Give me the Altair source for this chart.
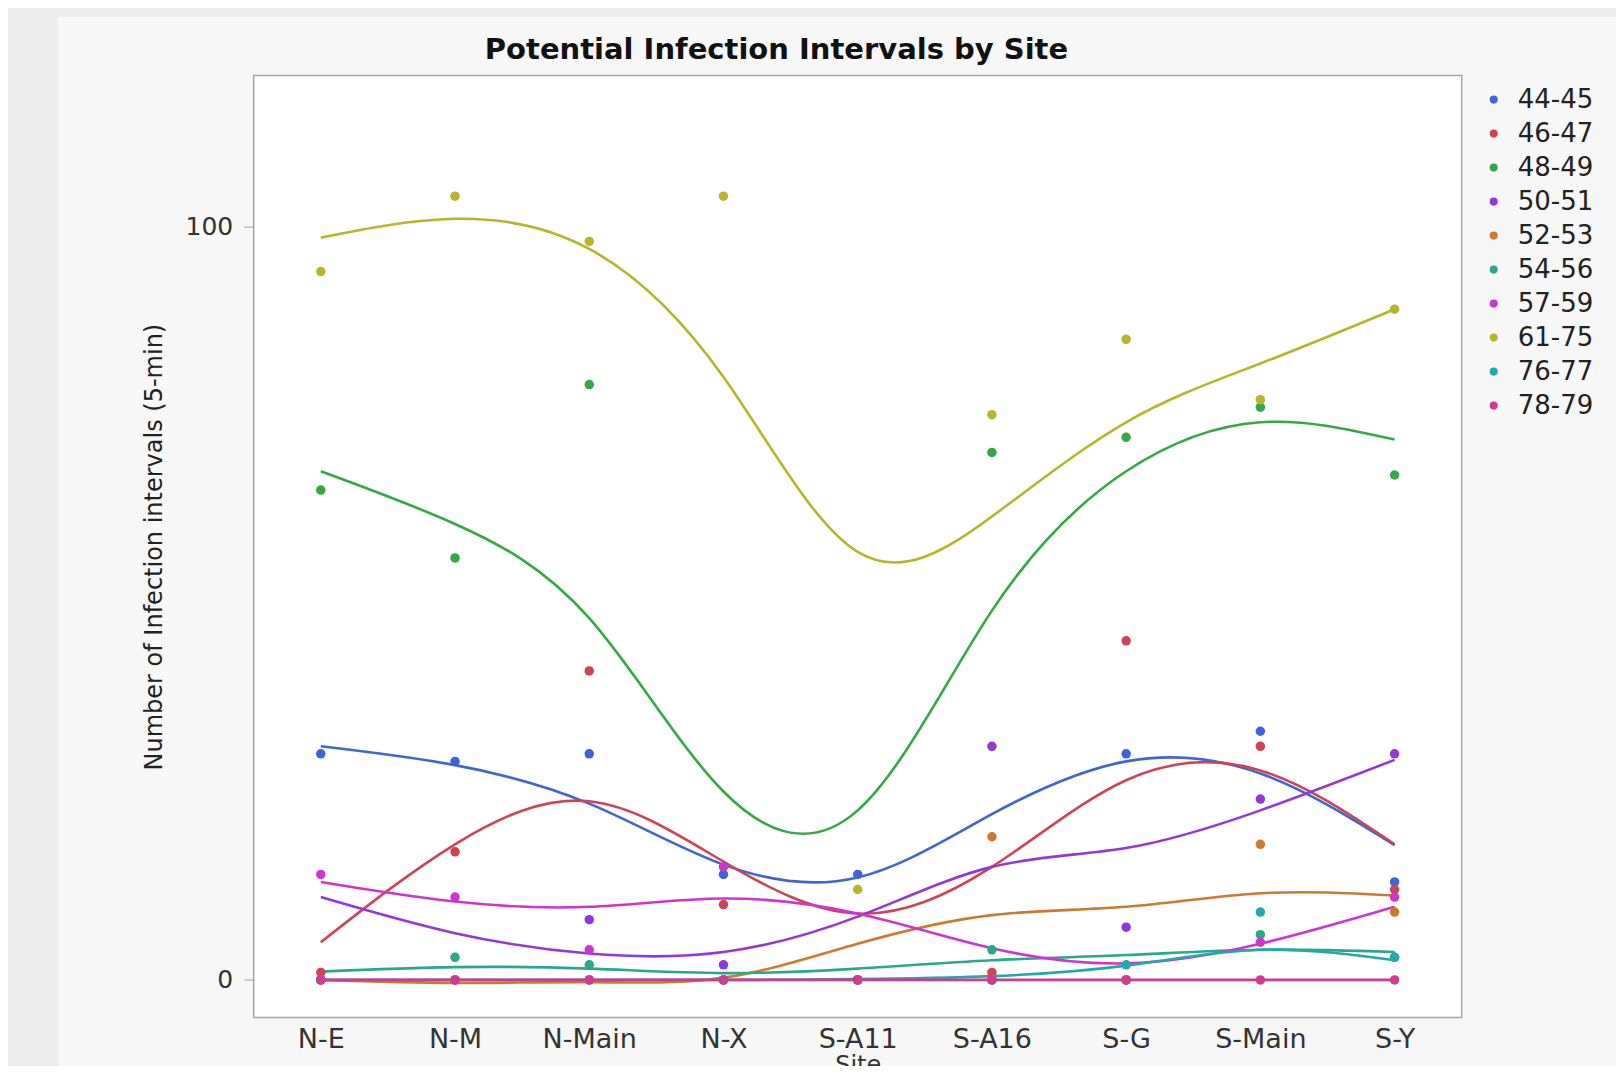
import altair as alt
import pandas as pd

# ---------------- data ----------------
SITES = ["N-E", "N-M", "N-Main", "N-X", "S-A11", "S-A16", "S-G", "S-Main", "S-Y"]
SERIES = ["44-45", "46-47", "48-49", "50-51", "52-53", "54-56", "57-59", "61-75", "76-77", "78-79"]
COLORS = ["#3f64d6", "#cc4455", "#35a845", "#9337d8", "#cc7a2e",
          "#29a88a", "#cc35d0", "#b8b52a", "#22aaaa", "#d13a8e"]

# observed counts (dots)
obs_44_45 = [30, 29, 30, 14, 14, 0, 30, 33, 13]
obs_46_47 = [1, 17, 41, 10, 0, 1, 45, 31, 12]
obs_48_49 = [65, 56, 79, 0, 0, 70, 72, 76, 67]
obs_50_51 = [0, 0, 8, 2, 0, 31, 7, 24, 30]
obs_52_53 = [0, 0, 0, 0, 0, 19, 0, 18, 9]
obs_54_56 = [0, 3, 2, 0, 0, 4, 0, 6, 3]
obs_57_59 = [14, 11, 4, 15, 0, 0, 0, 5, 11]
obs_61_75 = [94, 104, 98, 104, 12, 75, 85, 77, 89]
obs_76_77 = [0, 0, 0, 0, 0, 0, 2, 9, 3]
obs_78_79 = [0, 0, 0, 0, 0, 0, 0, 0, 0]

# smoother curve at each site
fit_44_45 = [31, 28.5, 23.4, 15.3, 13.6, 22, 29, 27.4, 17.9]
fit_46_47 = [5, 18, 23.7, 15.7, 8.8, 15, 26.5, 27.8, 18]
fit_48_49 = [67.5, 60.5, 48, 25, 22.5, 49, 67.5, 74, 71.7]
fit_50_51 = [11, 6.2, 3.5, 3.7, 8.4, 15, 17.5, 22.5, 29.2]
fit_52_53 = [0, -0.4, -0.3, 0.3, 4.8, 8.6, 9.7, 11.5, 11.2]
fit_54_56 = [1.1, 1.7, 1.5, 0.9, 1.5, 2.6, 3.3, 4.0, 3.7]
fit_57_59 = [13, 10.4, 9.7, 10.8, 8.8, 4.2, 2.2, 4.8, 9.7]
fit_61_75 = [98.5, 101, 97, 80, 56.8, 61.5, 74, 81.8, 89]
fit_76_77 = [0, 0, 0, 0, 0.1, 0.5, 1.9, 4.0, 2.6]
fit_78_79 = [0, 0, 0, 0, 0, 0, 0, 0, 0]

OBS = [obs_44_45, obs_46_47, obs_48_49, obs_50_51, obs_52_53,
       obs_54_56, obs_57_59, obs_61_75, obs_76_77, obs_78_79]
FIT = [fit_44_45, fit_46_47, fit_48_49, fit_50_51, fit_52_53,
       fit_54_56, fit_57_59, fit_61_75, fit_76_77, fit_78_79]

TITLE = "Potential Infection Intervals by Site"
Y_TITLE = "Number of Infection intervals (5-min)"
X_TITLE = "Site"

rows_obs, rows_fit = [], []
for k, s in enumerate(SERIES):
    for i, site in enumerate(SITES):
        rows_obs.append({"Site": site, "Group": s, "Count": OBS[k][i], "order": k})
        rows_fit.append({"Site": site, "Group": s, "Fit": FIT[k][i], "order": k})
df_obs = pd.DataFrame(rows_obs)
df_fit = pd.DataFrame(rows_fit)

# ---------------- layout ----------------
W, H = 1208, 942
TOTAL_W, TOTAL_H = 1608, 1058
PAD_L, PAD_T = 245.7, 67.6
PAD = {"left": PAD_L, "top": PAD_T,
       "right": TOTAL_W - PAD_L - W, "bottom": TOTAL_H - PAD_T - H}
FONT = "DejaVu Sans"

color = alt.Color(
    "Group:N",
    scale=alt.Scale(domain=SERIES, range=COLORS),
    legend=alt.Legend(
        title=None, orient="none", legendX=1227, legendY=11,
        labelFontSize=26, labelFont=FONT, labelColor="#222222",
        symbolType="circle", symbolSize=65, symbolStrokeWidth=0,
        symbolOpacity=1, labelOffset=11, rowPadding=8, padding=0,
    ),
)

x_enc = alt.X(
    "Site:N", sort=SITES,
    scale=alt.Scale(domain=SITES, type="point", padding=0.5),
    axis=alt.Axis(
        title=X_TITLE, labelAngle=0, labelFontSize=27, labelFont=FONT,
        labelColor="#333333", ticks=False, domain=False, grid=False,
        labelPadding=9, titleFontSize=24, titleFont=FONT,
        titleFontWeight="normal", titleColor="#333333", titlePadding=1,
    ),
)

def y_enc(field):
    return alt.Y(
        f"{field}:Q",
        scale=alt.Scale(domain=[-5, 120], nice=False, zero=False),
        axis=alt.Axis(
            title=Y_TITLE, values=[0, 100], tickSize=10, tickColor="#a0a0a0",
            tickWidth=1, labelFontSize=25, labelFont=FONT, labelColor="#333333",
            domain=False, grid=False, labelPadding=11,
            titleFontSize=24, titleFont=FONT, titleFontWeight="normal",
            titleColor="#222222", titleX=-99.5, titleY=H / 2, titleAngle=270,
            titleBaseline="middle",
        ),
    )

one = pd.DataFrame({"t": [TITLE]})

left_strip = alt.Chart(one).mark_rect(color="#ececec").encode(
    x=alt.value(-PAD_L), x2=alt.value(-195.7),
    y=alt.value(-PAD_T), y2=alt.value(TOTAL_H - PAD_T),
)
top_strip = alt.Chart(one).mark_rect(color="#ececec").encode(
    x=alt.value(-PAD_L), x2=alt.value(TOTAL_W - PAD_L),
    y=alt.value(-PAD_T), y2=alt.value(-58.6),
)

lines = alt.Chart(df_fit).mark_line(interpolate="natural", strokeWidth=2.6).encode(
    x=x_enc, y=y_enc("Fit"), color=color, detail="Group:N",
    order=alt.Order("order:Q"),
)

points = alt.Chart(df_obs).mark_circle(size=90, opacity=1).encode(
    x=x_enc, y=y_enc("Count"), color=color, order=alt.Order("order:Q"),
)

title = alt.Chart(one).mark_text(
    fontSize=29, fontWeight="bold", font=FONT, color="#111111",
    align="center", baseline="middle",
).encode(text="t:N", x=alt.value(522.8), y=alt.value(-25.9))

chart = alt.layer(left_strip, top_strip, lines, points, title).properties(
    width=W, height=H,
    autosize=alt.AutoSizeParams(type="none"),
    padding=PAD,
    background="#f7f7f7",
).configure_view(
    fill="white", stroke="#a5a5a5", strokeWidth=1.5,
)

chart.save("out.html", embed_options={"renderer": "svg", "actions": False})
